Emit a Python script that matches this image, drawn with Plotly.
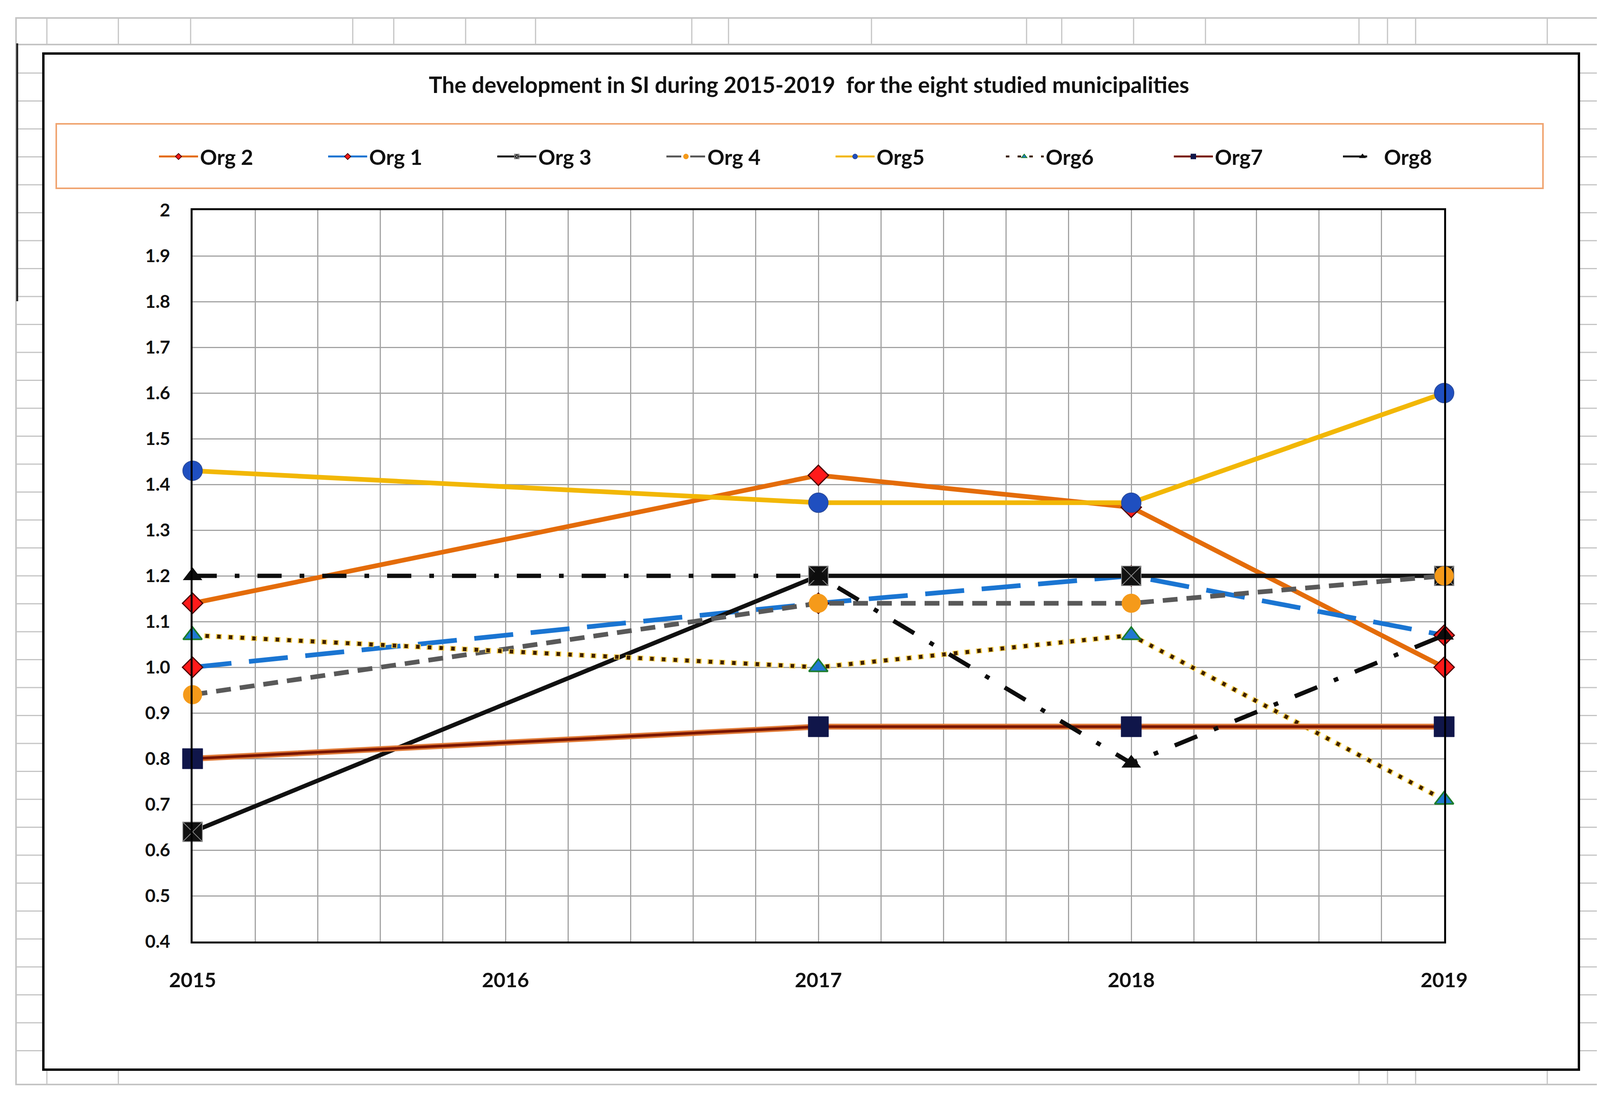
import plotly.graph_objects as go

# ---------------- data ----------------
years = [2015, 2017, 2018, 2019]
org2 = [1.14, 1.42, 1.35, 1.00]
org1 = [1.00, 1.14, 1.20, 1.07]
org3 = [0.64, 1.20, 1.20, 1.20]
org4 = [0.94, 1.14, 1.14, 1.20]
org5 = [1.43, 1.36, 1.36, 1.60]
org6 = [1.07, 1.00, 1.07, 0.71]
org7 = [0.80, 0.87, 0.87, 0.87]
org8 = [1.20, 1.20, 0.79, 1.07]

x_tick_values = [2015, 2016, 2017, 2018, 2019]
x_tick_labels = ["2015", "2016", "2017", "2018", "2019"]
y_tick_values = [0.4, 0.5, 0.6, 0.7, 0.8, 0.9, 1.0, 1.1, 1.2, 1.3, 1.4, 1.5, 1.6, 1.7, 1.8, 1.9, 2.0]
y_tick_labels = ["0.4", "0.5", "0.6", "0.7", "0.8", "0.9", "1.0", "1.1", "1.2", "1.3",
                 "1.4", "1.5", "1.6", "1.7", "1.8", "1.9", "2"]

title_text = "The development in SI during 2015-2019  for the eight studied municipalities"

# ---------------- layout geometry (pixels) ----------------
W, H = 4126, 2808
ML, MR, MT, MB = 485, 437, 530, 406
PW = W - ML - MR
PH = H - MT - MB
FONT = "Lato, 'Open Sans', sans-serif"


def fx(px):
    return (px - ML) / PW


def fy(py):
    return (H - MB - py) / PH


fig = go.Figure()


def add(name, y, color, width, dash, symbol, msize, mcolor, mline, mlinew):
    fig.add_trace(go.Scatter(
        x=years, y=y, name=name, mode="lines+markers",
        line=dict(color=color, width=width, dash=dash),
        marker=dict(symbol=symbol, size=msize, color=mcolor,
                    line=dict(color=mline, width=mlinew)),
        cliponaxis=False,
    ))


def underlay(y, color, width, dash="solid"):
    fig.add_trace(go.Scatter(x=years, y=y, mode="lines", showlegend=False, hoverinfo="skip",
                             line=dict(color=color, width=width, dash=dash), cliponaxis=False))


add("Org 2", org2, "#e46c0a", 12, "solid", "diamond", 40, "#ff1a1a", "#4a0000", 3)
add("Org 1", org1, "#1a75d2", 12, "100px,45px", "diamond", 40, "#ff1a1a", "#4a0000", 3)
add("Org 3", org3, "#111111", 11, "solid", "square-x", 50, "#111111", "#8a8a8a", 2)
add("Org 4", org4, "#595959", 12, "38px,23px", "circle", 48, "#f59a1a", "#f59a1a", 1)
add("Org5", org5, "#f2b705", 12, "solid", "circle", 50, "#1f4fc0", "#2b4a9a", 2)
underlay(org6, "#f7d050", 13, "15px,15px")
add("Org6", org6, "#3d1f00", 10, "0px,3px,9px,18px", "triangle-up", 42, "#1f78d1", "#1c7c2c", 4)
underlay(org7, "#e07b39", 15)
add("Org7", org7, "#7a1500", 7, "solid", "square", 52, "#10164a", "#10164a", 1)
add("Org8", org8, "#0d0d0d", 11, "62px,46px,12px,46px", "triangle-up", 42, "#0d0d0d", "#0d0d0d", 1)

# ---------------- decorative shapes (spreadsheet + frames) ----------------
shapes = []
grey = "#c4c4c4"


def hline(x0, x1, y, color=grey, width=3):
    shapes.append(dict(type="line", xref="paper", yref="paper", x0=fx(x0), x1=fx(x1), y0=fy(y), y1=fy(y),
                       line=dict(color=color, width=width), layer="below"))


def vline(x, y0, y1, color=grey, width=3):
    shapes.append(dict(type="line", xref="paper", yref="paper", x0=fx(x), x1=fx(x), y0=fy(y0), y1=fy(y1),
                       line=dict(color=color, width=width), layer="below"))


def rect(x0, y0, x1, y1, color, width):
    shapes.append(dict(type="rect", xref="paper", yref="paper", x0=fx(x0), x1=fx(x1), y0=fy(y0), y1=fy(y1),
                       line=dict(color=color, width=width), layer="below"))


rect(33, 38, 4088, 2768, grey, 4)
hline(33, 4088, 106, grey, 4)
for c in [112, 295, 480, 895, 1000, 1184, 1363, 1763, 1857, 2223, 2620, 2710, 2894, 3078, 3471, 3544, 3616, 3953]:
    vline(c, 38, 106)
for c in [112, 295, 3471, 3544, 3616, 3953]:
    vline(c, 2730, 2768)
row = 179.0
while row < 2725:
    hline(33, 103, row)
    hline(4034, 4088, row)
    row += 71.5
vline(36, 103, 763, "#222222", 5)
rect(103, 129, 4034, 2730, "#000000", 6)
rect(136, 309, 3942, 474, "#f0a470", 4)

fig.update_layout(
    width=W, height=H,
    margin=dict(l=ML, r=MR, t=MT, b=MB, autoexpand=False),
    paper_bgcolor="white", plot_bgcolor="white",
    title=dict(text=title_text, x=0.5, xref="container", xanchor="center",
               y=1 - 210 / H, yref="container", yanchor="middle",
               font=dict(family=FONT, size=57, weight="bold", color="#111111")),
    legend=dict(orientation="h", x=fx(394), xanchor="left", xref="paper",
                y=fy(393), yref="paper", yanchor="middle",
                font=dict(family=FONT, size=54, weight="bold", color="#111111"),
                itemwidth=100, entrywidth=318, entrywidthmode="pixels",
                bgcolor="rgba(0,0,0,0)", borderwidth=0, itemsizing="constant"),
    shapes=shapes,
    xaxis=dict(range=[2015, 2019], tickmode="array", tickvals=x_tick_values, ticktext=x_tick_labels,
               showgrid=True, gridcolor="#a3a3a3", gridwidth=3, zeroline=False,
               showline=True, linecolor="#000000", linewidth=5, mirror=True,
               ticks="", ticklabelstandoff=50,
               minor=dict(dtick=0.2, tick0=2015, showgrid=True, gridcolor="#a3a3a3", gridwidth=3),
               tickfont=dict(family=FONT, size=52, weight="bold", color="#111111")),
    yaxis=dict(range=[0.4, 2.0], tickmode="array", tickvals=y_tick_values, ticktext=y_tick_labels,
               showgrid=True, gridcolor="#a3a3a3", gridwidth=3, zeroline=False,
               showline=True, linecolor="#000000", linewidth=5, mirror=True,
               ticks="", ticklabelstandoff=43,
               tickfont=dict(family=FONT, size=46, weight="bold", color="#111111")),
)

fig.write_html("out.html")
